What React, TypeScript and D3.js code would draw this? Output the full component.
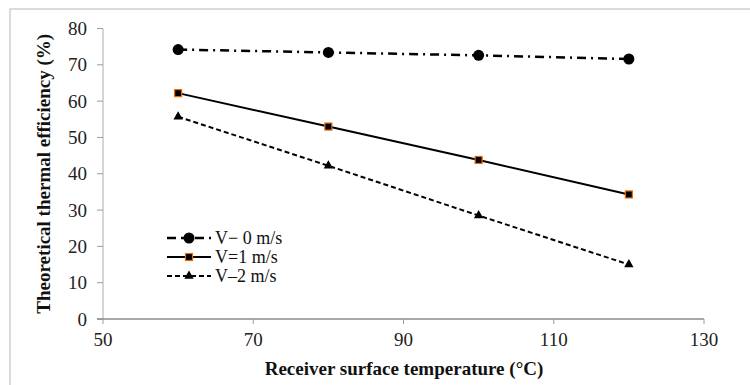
import React from "react";
import * as d3 from "d3";

const temps = [60, 80, 100, 120];
const v0 = [74.2, 73.4, 72.6, 71.6];
const v1 = [62.2, 53.0, 43.8, 34.3];
const v2 = [55.7, 42.2, 28.5, 15.0];
const xTicks = [50, 70, 90, 110, 130];
const yTicks = [0, 10, 20, 30, 40, 50, 60, 70, 80];
const legendLabels = ["V\u2212 0 m/s", "V=1 m/s", "V\u20132 m/s"];

const W = 750, H = 385;
const x = d3.scaleLinear().domain([50, 130]).range([103, 704]);
const y = d3.scaleLinear().domain([0, 80]).range([319, 28.5]);
const font = "'Times New Roman', 'Liberation Serif', Tinos, 'DejaVu Serif', serif";

type Series = { values: number[]; dash: string; width: number; marker: string };
const series: Series[] = [
  { values: v0, dash: "9,5,2,5", width: 2.5, marker: "circle" },
  { values: v1, dash: "", width: 2, marker: "square" },
  { values: v2, dash: "5,3", width: 2, marker: "triangle" },
];

function Marker({ kind, cx, cy }: { kind: string; cx: number; cy: number }) {
  if (kind === "circle") return <circle cx={cx} cy={cy} r={5.5} fill="#000" />;
  if (kind === "square")
    return <rect x={cx - 3.5} y={cy - 3.5} width={7} height={7} fill="#000" stroke="#e46c0a" strokeWidth={1.2} />;
  const tri = d3.symbol().type(d3.symbolTriangle).size(38)();
  return <path d={tri || ""} transform={`translate(${cx},${cy})`} fill="#000" />;
}

export default function App() {
  const line = d3.line<number>().x((_, i) => x(temps[i])).y((d) => y(d));
  const legendY = [238, 257, 276];
  return (
    <svg width={W} height={H} style={{ position: "absolute", left: 0, top: 0, background: "#fff", fontFamily: font }}>
      <rect x={10} y={9} width={760} height={400} fill="#fff" stroke="#d0d0d0" strokeWidth={1.5} />
      <line x1={x(50)} x2={x(50)} y1={y(0)} y2={y(80)} stroke="#c8c8c8" strokeWidth={1.5} />
      {yTicks.map((t) => (
        <g key={t}>
          <line x1={x(50) - 6} x2={x(50)} y1={y(t)} y2={y(t)} stroke="#9a9a9a" />
          <text x={x(50) - 16} y={y(t)} dy="0.35em" textAnchor="end" fontSize={19} fill="#222">{t}</text>
        </g>
      ))}
      <line x1={x(50) - 6} x2={x(130)} y1={y(0)} y2={y(0)} stroke="#8c8c8c" strokeWidth={1.5} />
      {xTicks.map((t) => (
        <g key={t}>
          <line x1={x(t)} x2={x(t)} y1={y(0)} y2={y(0) + 5} stroke="#9a9a9a" />
          <text x={x(t)} y={y(0) + 27} textAnchor="middle" fontSize={19} fill="#222">{t}</text>
        </g>
      ))}
      <text x={404} y={375} textAnchor="middle" fontSize={19} fontWeight="bold" fill="#111">Receiver surface temperature (°C)</text>
      <text transform={`translate(50,${(y(0) + y(80)) / 2}) rotate(-90)`} textAnchor="middle" fontSize={19} fontWeight="bold" fill="#111">Theoretical thermal efficiency (%)</text>
      {series.map((s, si) => (
        <g key={si}>
          <path d={line(s.values) || ""} fill="none" stroke="#000" strokeWidth={s.width} strokeDasharray={s.dash} />
          {s.values.map((v, i) => (
            <Marker key={i} kind={s.marker} cx={x(temps[i])} cy={y(v)} />
          ))}
        </g>
      ))}
      {series.map((s, si) => (
        <g key={"l" + si}>
          <line x1={167} x2={211} y1={legendY[si]} y2={legendY[si]} stroke="#000" strokeWidth={s.width} strokeDasharray={si === 0 ? "9,5" : s.dash} />
          <Marker kind={s.marker} cx={189} cy={legendY[si]} />
          <text x={215} y={legendY[si]} dy="0.35em" fontSize={18} fill="#111">{legendLabels[si]}</text>
        </g>
      ))}
    </svg>
  );
}
